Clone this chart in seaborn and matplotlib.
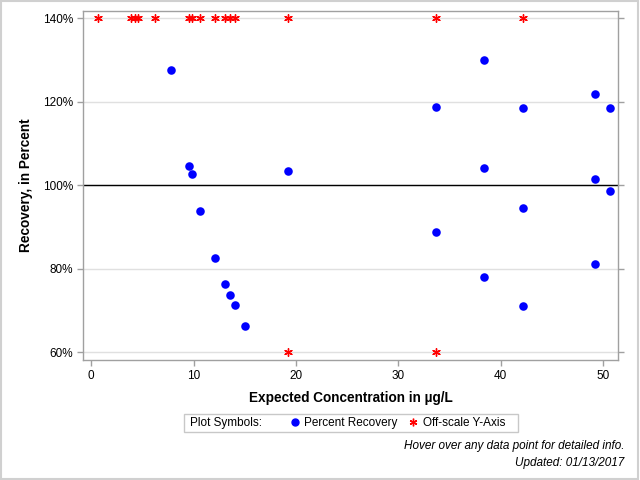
import numpy as np
import pandas as pd
import matplotlib
matplotlib.use('Agg')
import matplotlib.pyplot as plt
import seaborn as sns
from matplotlib.lines import Line2D
from matplotlib.patches import Rectangle

# on-scale recovery values
conc = [7.8, 9.6, 9.8, 10.6, 12.1, 13.1, 13.6, 14.0, 15.0, 19.2,
        33.7, 33.7, 38.4, 38.4, 38.4, 42.2, 42.2, 42.2,
        49.2, 49.2, 49.2, 50.7, 50.7]
recovery = [127.7, 104.7, 102.8, 93.9, 82.6, 76.4, 73.7, 71.3, 66.3, 103.5,
            118.7, 88.9, 130.1, 104.2, 78.0, 118.4, 94.6, 71.1,
            121.9, 101.6, 81.2, 118.4, 98.7]

# off-scale points, drawn at the axis limits
off_conc = [0.7, 3.9, 4.3, 4.6, 6.2, 9.6, 9.8, 10.6, 12.1, 13.1, 13.6, 14.0,
            19.2, 33.7, 42.2, 19.2, 33.7]
off_val = [140] * 15 + [60, 60]

xticks = [0, 10, 20, 30, 40, 50]
yticks = [60, 80, 100, 120, 140]

df = pd.DataFrame({'conc': conc, 'rec': recovery})
df_off = pd.DataFrame({'conc': off_conc, 'rec': off_val})

sns.set_style('white')
plt.rcParams['font.family'] = ['Liberation Sans', 'DejaVu Sans']
plt.rcParams['text.color'] = 'black'
plt.rcParams['xtick.labelcolor'] = 'black'
plt.rcParams['ytick.labelcolor'] = 'black'
plt.rcParams['axes.labelcolor'] = 'black'

fig = plt.figure(figsize=(6.4, 4.8), dpi=100)
ax = fig.add_axes([83 / 640, 1 - 360 / 480, (618 - 83) / 640, (360 - 11) / 480])

for y in yticks:
    ax.axhline(y, color='#e0e0e0', lw=1, zorder=0)
ax.axhline(100, color='black', lw=1, zorder=1)

sns.scatterplot(data=df, x='conc', y='rec', ax=ax, color='blue', s=38,
                edgecolor='blue', linewidth=0, zorder=3, legend=False)
sns.scatterplot(data=df_off, x='conc', y='rec', ax=ax, color='red',
                marker=(6, 2, 0), s=30, linewidth=1, zorder=3, legend=False)

ax.set_xlim(-0.8, 51.45)
ax.set_ylim(58.15, 141.75)
ax.set_xticks(xticks)
ax.set_yticks(yticks)
ax.set_yticklabels([f'{v}%' for v in yticks])
ax.tick_params(axis='both', labelsize=8.5, length=4, width=1, color='#a0a0a0',
               direction='out', pad=3, labelcolor='black')
ax.tick_params(axis='y', right=True, left=True)
ax.tick_params(axis='x', bottom=True)
for s in ax.spines.values():
    s.set_color('#a0a0a0')
    s.set_linewidth(1)

ax.set_xlabel('Expected Concentration in µg/L', fontsize=9.8, fontweight='bold', labelpad=7)
ax.set_ylabel('Recovery, in Percent', fontsize=9.8, fontweight='bold', labelpad=7)

# legend box: frame and caption drawn by hand, symbols by a frameless legend
fig.patches.append(Rectangle((184 / 640, 1 - 432 / 480), 334 / 640, 18 / 480,
                             transform=fig.transFigure, fill=False,
                             edgecolor='#c8c8c8', lw=1))
fig.text(190 / 640, 1 - 423 / 480, 'Plot Symbols:', ha='left', va='center',
         fontsize=8.5)
handles = [Line2D([], [], linestyle='none', marker='o', color='blue', markersize=5),
           Line2D([], [], linestyle='none', marker=(6, 2, 0), color='red',
                  markersize=5.5, markeredgewidth=1)]
labels = ['Percent Recovery', 'Off-scale Y-Axis']
fig.legend(handles, labels, loc='center left', ncol=2,
           bbox_to_anchor=(282 / 640, 1 - 423 / 480), fontsize=8.5,
           frameon=False, handlelength=1, handletextpad=0.3,
           columnspacing=0.8, borderpad=0.1)

fig.text(624 / 640, 1 - 446 / 480, 'Hover over any data point for detailed info.',
         ha='right', va='center', fontsize=8.5, style='italic')
fig.text(624 / 640, 1 - 463 / 480, 'Updated: 01/13/2017',
         ha='right', va='center', fontsize=8.5, style='italic')

fig.patches.append(Rectangle((0.001, 0.002), 0.996, 0.996, transform=fig.transFigure,
                             fill=False, edgecolor='#d0d0d0', lw=1.5))

fig.savefig('out.png', dpi=100)
